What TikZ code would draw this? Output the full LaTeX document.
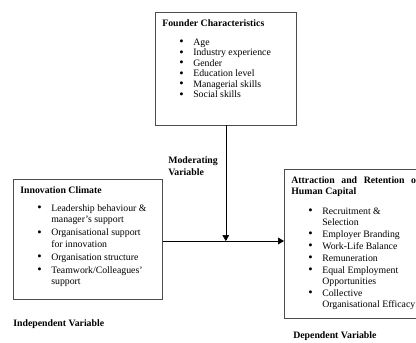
\documentclass[tikz,border=0pt]{standalone}
\usepackage{fontspec}
\setmainfont{Liberation Serif}
\usetikzlibrary{arrows,positioning}
\hyphenpenalty=10000
\newcommand{\bitem}{\par\hangindent=31pt\hangafter=1\noindent\hspace*{17pt}%
  \makebox[14pt][l]{\raisebox{-0.6pt}{\fontsize{12.5}{0}\selectfont\textbullet}}}
\newcommand{\boxend}[1]{\par\kern#1\hrule height 0pt}

\begin{document}
\begin{tikzpicture}[%
      >=triangle 60,              % small filled heads
      line width=0.6pt
      ]
  \tikzset{
    box/.style={draw=black!70,anchor=north west,inner xsep=7pt,inner ysep=7pt,align=justify},
    var/.style={inner sep=0pt,align=left,font=\fontsize{9.8}{12}\selectfont\bfseries}}
 \useasboundingbox (0,0) rectangle (416pt,343pt);
 \clip (0,0) rectangle (416pt,343pt);

 \node [box,text width=127pt,font=\fontsize{9.8}{10.5}\selectfont] (fc) at (155pt,331pt)
 {\textbf{Founder Characteristics}\par\vspace{8.5pt}
  \bitem Age
  \bitem Industry experience
  \bitem Gender
  \bitem Education level
  \bitem Managerial skills
  \bitem Social skills\boxend{20pt}};

 \node [box,text width=135pt,font=\fontsize{9.8}{11.5}\selectfont,
   execute at begin node={\setlength{\parskip}{1.5pt}}] (ic) at (13pt,164pt)
 {\textbf{Innovation Climate}\par\vspace{5pt}
  \bitem Leadership behaviour \&\newline manager's support
  \bitem Organisational support\newline for innovation
  \bitem Organisation structure
  \bitem Teamwork/Colleagues'\newline support\boxend{6pt}};

 \node [box,text width=128pt,font=\fontsize{9.8}{11}\selectfont,
   execute at begin node={\setlength{\parskip}{1pt}}] (hc) at (284pt,174pt)
 {\textbf{Attraction and Retention of Human Capital}\par\vspace{8pt}
  \bitem Recruitment \&\newline Selection
  \bitem Employer Branding
  \bitem Work-Life Balance
  \bitem Remuneration
  \bitem Equal Employment\newline Opportunities
  \bitem Collective\newline Organisational Efficacy\boxend{1.5pt}};

 \node [var,anchor=north west] (mod) at (168pt,187pt) {Moderating\\Variable};
 \node [var,below right=19pt and 0pt of ic.south west] (iv) {Independent Variable};
 \node [var,below right=13pt and 9pt of hc.south west] (dv) {Dependent Variable};

 \coordinate (mv) at (fc.south |- 0,102pt);
 \draw[->] (fc) -- (mv);
 \draw[->] (ic.east |- mv) -- (hc.west |- mv);
\end{tikzpicture}
\end{document}
